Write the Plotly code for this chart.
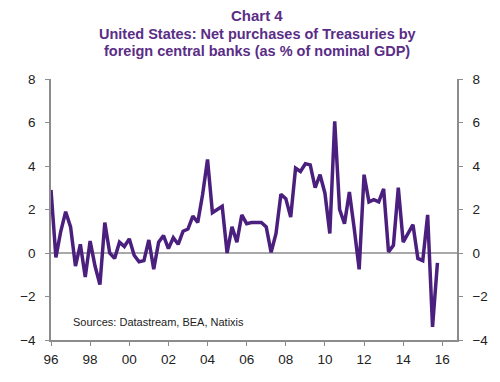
import plotly.graph_objects as go

# Quarterly data, 1996Q1 .. 2015Q4 (net purchases, % of nominal GDP)
start_year = 1996
values = [
    2.9, -0.2, 1.0, 1.9,      # 1996
    1.2, -0.6, 0.4, -1.1,     # 1997
    0.55, -0.6, -1.45, 1.4,   # 1998
    0.0, -0.25, 0.5, 0.3,     # 1999
    0.65, -0.1, -0.4, -0.35,  # 2000
    0.6, -0.75, 0.5, 0.8,     # 2001
    0.2, 0.7, 0.4, 1.0,       # 2002
    1.1, 1.7, 1.4, 2.7,       # 2003
    4.3, 1.85, 2.0, 2.15,     # 2004
    0.0, 1.2, 0.5, 1.75,      # 2005
    1.35, 1.4, 1.4, 1.4,      # 2006
    1.2, 0.03, 0.9, 2.7,      # 2007
    2.5, 1.65, 3.9, 3.75,     # 2008
    4.1, 4.05, 3.0, 3.6,      # 2009
    2.75, 0.9, 6.05, 2.0,     # 2010
    1.35, 2.8, 1.1, -0.75,    # 2011
    3.6, 2.35, 2.45, 2.35,    # 2012
    2.95, 0.05, 0.35, 3.0,    # 2013
    0.5, 0.9, 1.3, -0.25,     # 2014
    -0.35, 1.75, -3.4, -0.45, # 2015
]
dates = [start_year + i * 0.25 for i in range(len(values))]

x_tickvals = [1996, 1998, 2000, 2002, 2004, 2006, 2008, 2010, 2012, 2014, 2016]
x_ticktext = ["96", "98", "00", "02", "04", "06", "08", "10", "12", "14", "16"]
y_tickvals = [-4, -2, 0, 2, 4, 6, 8]

title_lines = [
    "Chart 4",
    "United States: Net purchases of Treasuries by",
    "foreign central banks (as % of nominal GDP)",
]
source_text = "Sources: Datastream, BEA, Natixis"

LINE_COLOR = "#4b1f7d"
TITLE_COLOR = "#5a2d86"
AXIS_COLOR = "#8c8c8c"
FONT = "Liberation Sans, Arial, sans-serif"

fig = go.Figure()
fig.add_trace(go.Scatter(
    x=dates, y=values, mode="lines",
    line=dict(color=LINE_COLOR, width=3.5),
    showlegend=False, hoverinfo="skip",
))
# invisible trace to anchor the right-hand axis
fig.add_trace(go.Scatter(
    x=dates[:1], y=values[:1], yaxis="y2", mode="lines",
    line=dict(width=0), opacity=0, showlegend=False, hoverinfo="skip",
))

axis_common = dict(
    showgrid=False, zeroline=False, showline=True, linecolor=AXIS_COLOR,
    linewidth=1.5, ticks="outside", tickcolor=AXIS_COLOR, ticklen=4,
    tickwidth=1.2, tickfont=dict(family=FONT, size=13.5, color="#222222"),
)

# page body has an 8px default margin, so the figure is 8px smaller
fig.update_layout(
    width=492, height=374,
    margin=dict(l=43, r=43, t=71, b=42),
    paper_bgcolor="white", plot_bgcolor="white",
    xaxis=dict(range=[1996, 2016.75], tickvals=x_tickvals, ticktext=x_ticktext,
               ticklabelstandoff=2, **axis_common),
    yaxis=dict(range=[-4, 8], tickvals=y_tickvals, side="left",
               ticklabelstandoff=7, **axis_common),
    yaxis2=dict(range=[-4, 8], tickvals=y_tickvals, side="right",
                overlaying="y", anchor="x", ticklabelstandoff=7, **axis_common),
    shapes=[dict(type="line", xref="paper", x0=0, x1=1, yref="y", y0=0, y1=0,
                 line=dict(color=AXIS_COLOR, width=1.5), layer="below")],
)

# positions below are in page pixels; plot area spans x 51..457, y 79..340
title_y = [16, 34, 51]
title_sizes = [15, 14.5, 14.5]
for txt, yy, sz in zip(title_lines, title_y, title_sizes):
    fig.add_annotation(
        text="<b>" + txt + "</b>", xref="paper", x=(257 - 51) / 406,
        yref="paper", y=(340 - yy) / 261, showarrow=False,
        xanchor="center", yanchor="middle",
        font=dict(family=FONT, size=sz, color=TITLE_COLOR),
    )

fig.add_annotation(
    text=source_text, xref="paper", x=(71 - 51) / 406, xanchor="left",
    yref="paper", y=(340 - 322) / 261, yanchor="middle", showarrow=False,
    font=dict(family=FONT, size=11, color="#222222"),
)

fig.write_html("out.html")
